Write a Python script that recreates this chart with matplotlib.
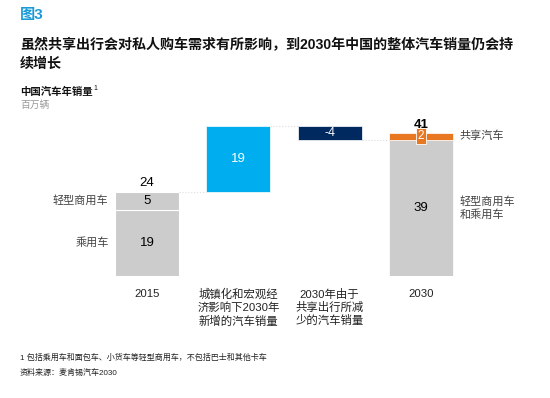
import matplotlib.pyplot as plt

plt.rcParams['font.family'] = ['Liberation Sans', 'Noto Sans CJK SC']

# データ（百万辆）
categories = ['2015', '城镇化和宏观经\n济影响下2030年\n新增的汽车销量', '2030年由于\n共享出行所减\n少的汽车销量', '2030']
passenger_2015 = 19
lcv_2015 = 5
total_2015 = 24
growth = 19
sharing_cut = -4
base_2030 = 39
shared_2030 = 2
total_2030 = 41

gray = '#cccccc'
blue = '#00aeef'
navy = '#002960'
orange = '#e87722'

W, H = 550, 398
fig = plt.figure(figsize=(5.5, 3.98), dpi=100)

# 軸の位置（ピクセルで決める）
x0, x1 = 92.2, 475.8
ybot, ytop = 276, 115
ax = fig.add_axes([x0 / W, (H - ybot) / H, (x1 - x0) / W, (ybot - ytop) / H])
ax.set_xlim(-0.6, 3.6)
ax.set_ylim(0, 46)
ax.axis('off')

bw = 0.7
ax.bar(0, passenger_2015, bw, color=gray, edgecolor='white', linewidth=0.8)
ax.bar(0, lcv_2015, bw, bottom=passenger_2015, color=gray, edgecolor='white', linewidth=0.8)
ax.bar(1, growth, bw, bottom=total_2015, color=blue, edgecolor='white', linewidth=0.5)
ax.bar(2, -sharing_cut, bw, bottom=total_2015 + growth + sharing_cut, color=navy, edgecolor='white', linewidth=0.5)
ax.bar(3, base_2030, bw, color=gray, edgecolor='white', linewidth=0.5)
ax.bar(3, shared_2030, bw, bottom=base_2030, color=orange, edgecolor='white', linewidth=0.5)

# 接続線
levels = [total_2015, total_2015 + growth, total_2015 + growth + sharing_cut]
for i, lv in enumerate(levels):
    ax.plot([i + bw / 2, i + 1 - bw / 2], [lv, lv], color='#dddddd', lw=0.8, ls=':')

# 数値ラベル
ax.text(0, total_2015 + 0.8, str(total_2015), ha='center', va='bottom', fontsize=9.5)
ax.text(0, passenger_2015 + lcv_2015 / 2, str(lcv_2015), ha='center', va='center', fontsize=9.5)
ax.text(0, passenger_2015 / 2, str(passenger_2015), ha='center', va='center', fontsize=9.5)
ax.text(1, total_2015 + growth / 2, str(growth), ha='center', va='center', fontsize=9.5, color='white')
ax.text(2, total_2015 + growth + sharing_cut / 2, str(sharing_cut), ha='center', va='center', fontsize=9, color='white')
ax.text(3, total_2030 + 0.4, str(total_2030), ha='center', va='bottom', fontsize=9.5, fontweight='bold')
ax.text(3, base_2030 + shared_2030 / 2, str(shared_2030), ha='center', va='center', fontsize=8.5, color='white',
        bbox=dict(boxstyle='square,pad=0.15', fc=orange, ec='white', lw=0.6))
ax.text(3, base_2030 / 2, str(base_2030), ha='center', va='center', fontsize=9.5)

# カテゴリラベル
for i, c in enumerate(categories):
    ax.text(i, -3.6, c, ha='center', va='top', fontsize=8.2, linespacing=1.25, color='#222222')

# 左右のラベル
ax.text(-0.42, passenger_2015 + lcv_2015 / 2, '轻型商用车', ha='right', va='center', fontsize=8, color='#444444')
ax.text(-0.42, passenger_2015 / 2, '乘用车', ha='right', va='center', fontsize=8, color='#444444')
ax.text(3.42, base_2030 + shared_2030 / 2, '共享汽车', ha='left', va='center', fontsize=8, color='#444444')
ax.text(3.42, base_2030 / 2, '轻型商用车\n和乘用车', ha='left', va='center', fontsize=8, color='#444444',
        linespacing=1.3)

# タイトル等
def ft(x, y, s, **kw):
    fig.text(x / W, 1 - y / H, s, **kw)

ft(20, 15, '图3', fontsize=11, fontweight='bold', color='#1a9bd7', va='center')
ft(20, 45, '虽然共享出行会对私人购车需求有所影响，到2030年中国的整体汽车销量仍会持', fontsize=10.1,
   fontweight='bold', va='center', color='#111111')
ft(20, 64, '续增长', fontsize=10.1, fontweight='bold', va='center', color='#111111')
ft(20, 92, '中国汽车年销量', fontsize=7.5, fontweight='bold', va='center', color='#111111')
ft(93.5, 88.5, '1', fontsize=5, va='center', color='#111111')
ft(20, 105, '百万辆', fontsize=7, va='center', color='#999999')
ft(20, 358, '1 包括乘用车和面包车、小货车等轻型商用车，不包括巴士和其他卡车', fontsize=5.8, va='center',
   color='#222222')
ft(20, 373, '资料来源：麦肯锡汽车2030', fontsize=5.8, va='center', color='#222222')

fig.savefig('out.png', dpi=100)
